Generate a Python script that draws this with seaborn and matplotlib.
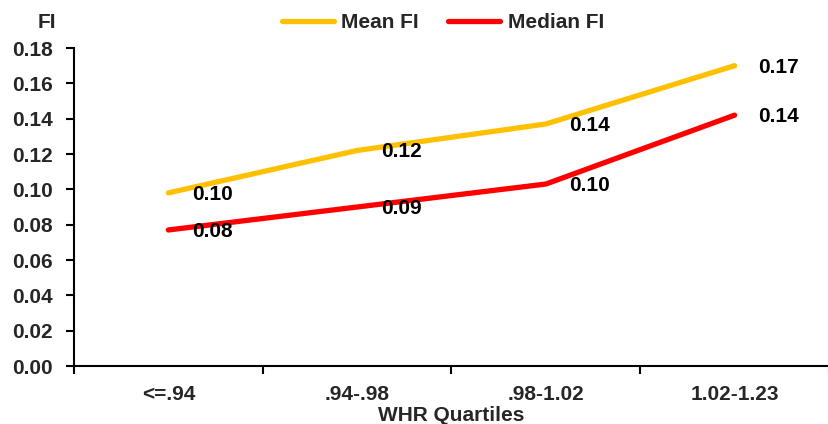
import matplotlib
matplotlib.use("Agg")
import matplotlib.pyplot as plt
import seaborn as sns
import pandas as pd
import numpy as np

categories = ["<=.94", ".94-.98", ".98-1.02", "1.02-1.23"]
mean_fi = [0.098, 0.122, 0.137, 0.170]
median_fi = [0.077, 0.090, 0.103, 0.142]
series_names = ["Mean FI", "Median FI"]
y_ticks = [0.00, 0.02, 0.04, 0.06, 0.08, 0.10, 0.12, 0.14, 0.16, 0.18]

sns.set_theme(style="white")
plt.rcParams['font.family'] = ['Liberation Sans', 'DejaVu Sans']
plt.rcParams['font.weight'] = 'bold'
FS = 15

df = pd.DataFrame({
    "cat": categories * 2,
    "val": mean_fi + median_fi,
    "series": [series_names[0]] * 4 + [series_names[1]] * 4,
})

fig = plt.figure(figsize=(8.29, 4.24), dpi=100)
ax = fig.add_axes([74/829, 58/424, 1 - 74/829, (366-48)/424])

palette = {"Mean FI": "#FFC000", "Median FI": "#FF0000"}
sns.lineplot(data=df, x="cat", y="val", hue="series", palette=palette,
             sort=False, linewidth=3.8, ax=ax, legend=True)

for line in ax.lines:
    line.set_solid_capstyle("round")
    line.set_solid_joinstyle("round")

for vals in (mean_fi, median_fi):
    for i, v in enumerate(vals):
        ax.annotate(f"{v:.2f}", xy=(i, v), xytext=(17, -1), textcoords="offset points",
                    ha="left", va="center", fontsize=FS, fontweight="bold", color="black")

ax.set_xlim(-0.5, 3.5)
ax.set_ylim(0, 0.18)
ax.set_yticks(y_ticks)
ax.set_yticklabels([f"{t:.2f}" for t in y_ticks], fontsize=FS, fontweight="bold")
ax.tick_params(axis="y", direction="out", length=6, width=1.5, color="black", pad=9, left=True)

ax.set_xticks([-0.5, 0.5, 1.5, 2.5, 3.5])
ax.set_xticklabels([])
ax.set_xticks(range(len(categories)), minor=True)
ax.set_xticklabels(categories, minor=True, fontsize=FS, fontweight="bold")
ax.tick_params(axis="x", which="major", direction="out", length=6, width=1.5, color="black", bottom=True)
ax.tick_params(axis="x", which="minor", length=0, pad=14)

for s in ["top", "right"]:
    ax.spines[s].set_visible(False)
for s in ["left", "bottom"]:
    ax.spines[s].set_color("black")
    ax.spines[s].set_linewidth(1.5)

ax.grid(False)
ax.set_xlabel("WHR Quartiles", fontsize=FS, fontweight="bold", labelpad=1)
ax.set_ylabel("")

handles, labels = ax.get_legend_handles_labels()
ax.get_legend().remove()
leg = fig.legend(handles, labels, loc="center", bbox_to_anchor=(443/829, 1 - 23/424),
                 ncol=2, frameon=False, fontsize=FS, handlelength=2.5,
                 handletextpad=0.35, columnspacing=1.4)
for t in leg.get_texts():
    t.set_fontweight("bold")
for h in leg.get_lines():
    h.set_linewidth(3.8)
    h.set_solid_capstyle("round")

fig.text(47/829, 1 - 22/424, "FI", ha="center", va="center", fontsize=FS, fontweight="bold")

fig.savefig("out.png", dpi=100)
